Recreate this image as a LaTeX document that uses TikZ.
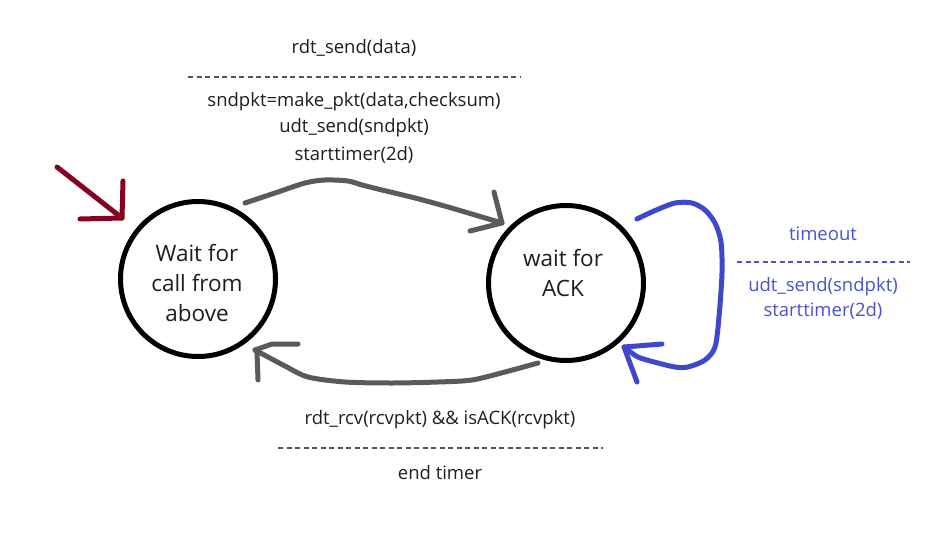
\documentclass[tikz,border=0pt]{standalone}
\usepackage{fontspec}
\setmainfont{Open Sans}
\definecolor{txt}{HTML}{1E1E1E}
\definecolor{arrgray}{HTML}{5A5A5A}
\definecolor{loopblue}{HTML}{3F48CC}
\definecolor{bluetxt}{HTML}{4A52D0}
\definecolor{initred}{HTML}{880020}
\definecolor{sepgray}{HTML}{555555}
\begin{document}
\begin{tikzpicture}[x=1pt,y=-1pt,
  state/.style={circle, draw=black, line width=5pt, minimum size=155pt, inner sep=0pt},
  hand/.style={line width=5pt, line cap=round, line join=round},
  lbl/.style={font=\fontsize{18.5}{22}\selectfont, text=txt, inner sep=0pt, anchor=center},
  stxt/.style={font=\fontsize{22.5}{30}\selectfont, align=center, text=txt, inner sep=0pt},
  sep/.style={draw=sepgray, line width=1.1pt, dash pattern=on 5pt off 3.5pt}]
\useasboundingbox[fill=white] (0,0) rectangle (930,554);

% states
\node[state] (c1) at (198,279) {};
\node[stxt] (t1) at (197,283) {Wait for\\call from\\above};
\node[state] (c2) at (566,283) {};
\node[stxt] (t2) at (563,273) {wait for\\ACK};

% initial arrow
\coordinate (i0) at (57,167);
\coordinate (i1) at (122,218);
\draw[hand, initred] (i0) -- (i1);
\draw[hand, initred] (123,181) -- (i1) -- (80,219);

% top transition
\coordinate (a0) at (245,203);
\coordinate (a1) at (502,223);
\draw[hand, arrgray] plot[smooth, tension=0.5] coordinates {(a0) (275,193) (305,183) (325,180) (348,181) (362,185) (382,190) (415,198) (448,207) (a1)};
\draw[hand, arrgray] (494,192) -- (a1) -- (470,231);

% bottom transition
\coordinate (b0) at (538,363);
\coordinate (b1) at (255,350);
\draw[hand, arrgray] plot[smooth, tension=0.5] coordinates {(b0) (505,372) (472,380) (438,382) (392,383) (345,382) (308,377) (285,366) (b1)};
\draw[hand, arrgray] (298,344) -- (272,344) -- (b1) -- (257,352) -- (258,380);

% self loop
\coordinate (l0) at (637,219);
\coordinate (l1) at (624,347);
\draw[hand, loopblue] plot[smooth, tension=0.5] coordinates {(l0) (654,211) (675,203) (692,203) (705,210) (715,223) (721,242) (722,273) (719,317) (715,347) (705,360) (688,367) (675,367) (658,363) (638,357) (l1)};
\draw[hand, loopblue] (662,344) -- (l1) -- (637,382);

% top label
\node[lbl] (la1) at (354,48) {rdt\_send(data)};
\draw[sep] (188,77) -- (520,77);
\node[lbl] (la2) at (354,102) {sndpkt=make\_pkt(data,checksum)};
\node[lbl] (la3) at (354,128) {udt\_send(sndpkt)};
\node[lbl] (la4) at (354,155) {starttimer(2d)};

% loop label
\node[lbl, text=bluetxt] (lb1) at (823,234) {timeout};
\draw[sep, draw=bluetxt] (737,262) -- (910,262);
\node[lbl, text=bluetxt] (lb2) at (823,287) {udt\_send(sndpkt)};
\node[lbl, text=bluetxt] (lb3) at (823,311) {starttimer(2d)};

% bottom label
\node[lbl] (lc1) at (440,420) {rdt\_rcv(rcvpkt) \&\& isACK(rcvpkt)};
\draw[sep] (278,448) -- (603,448);
\node[lbl] (lc2) at (440,473) {end timer};
\end{tikzpicture}
\end{document}
